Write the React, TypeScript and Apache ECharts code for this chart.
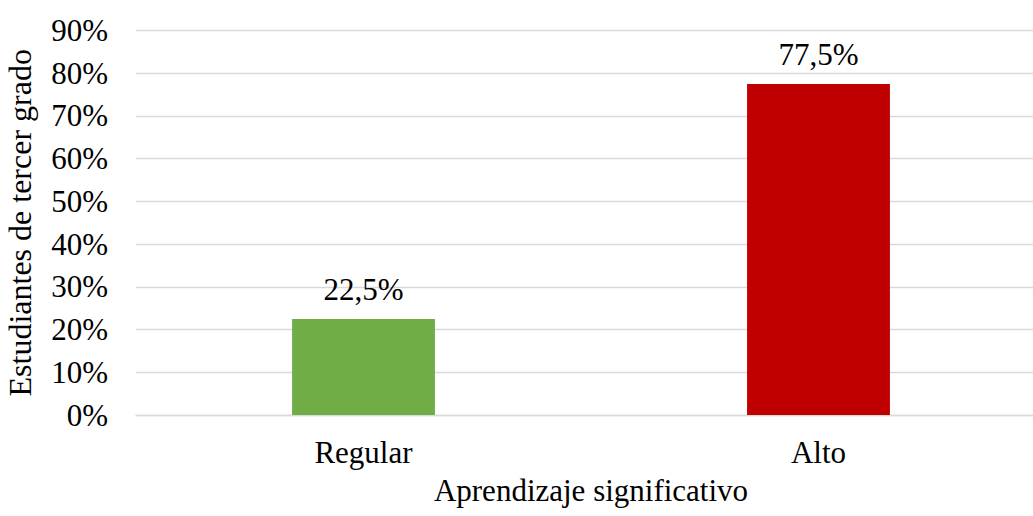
import React, { useEffect, useRef } from "react";
import * as echarts from "echarts";

const categories = ["Regular", "Alto"];
const values = [22.5, 77.5];
const barColors = ["#70ad47", "#c00000"];
const yTicks = { min: 0, max: 90, interval: 10 };
const xTitle = "Aprendizaje significativo";
const yTitle = "Estudiantes de tercer grado";

const FONT = '"Liberation Serif", "Times New Roman", serif';

export default function App() {
  const ref = useRef<HTMLDivElement>(null);
  useEffect(() => {
    document.body.style.margin = "0";
    const chart = echarts.init(ref.current!, undefined, { renderer: "svg" });
    chart.setOption({
      animation: false,
      backgroundColor: "#ffffff",
      grid: { left: 136, right: 0, top: 30.5, bottom: 101, containLabel: false, outerBoundsMode: "none" },
      xAxis: {
        type: "category",
        data: categories,
        name: xTitle,
        nameLocation: "middle",
        nameGap: 60,
        nameTextStyle: { fontFamily: FONT, fontSize: 31, color: "#000" },
        axisLine: { show: true, lineStyle: { color: "#d9d9d9", width: 1.3 } },
        axisTick: { show: false },
        axisLabel: { fontFamily: FONT, fontSize: 31, color: "#000", margin: 22 },
      },
      yAxis: {
        type: "value",
        min: yTicks.min,
        max: yTicks.max,
        interval: yTicks.interval,
        name: yTitle,
        nameLocation: "middle",
        nameRotate: 90,
        nameGap: 100,
        nameTextStyle: { fontFamily: FONT, fontSize: 32, color: "#000" },
        axisLine: { show: false },
        axisTick: { show: false },
        axisLabel: { fontFamily: FONT, fontSize: 31, color: "#000", margin: 28, formatter: "{value}%" },
        splitLine: { lineStyle: { color: "#d9d9d9", width: 1.3 } },
      },
      series: [
        {
          type: "bar",
          barWidth: "31.4%",
          data: values.map((v, i) => ({ value: v, itemStyle: { color: barColors[i] } })),
          label: {
            show: true,
            position: "top",
            distance: 14,
            fontFamily: FONT,
            fontSize: 31,
            color: "#000",
            formatter: (p: any) => String(p.value).replace(".", ",") + "%",
          },
        },
      ],
    });
    return () => chart.dispose();
  }, []);
  return (
    <div style={{ width: 1033, height: 516, overflow: "hidden", position: "relative" }}>
      <div ref={ref} style={{ width: 1046, height: 516 }} />
    </div>
  );
}
